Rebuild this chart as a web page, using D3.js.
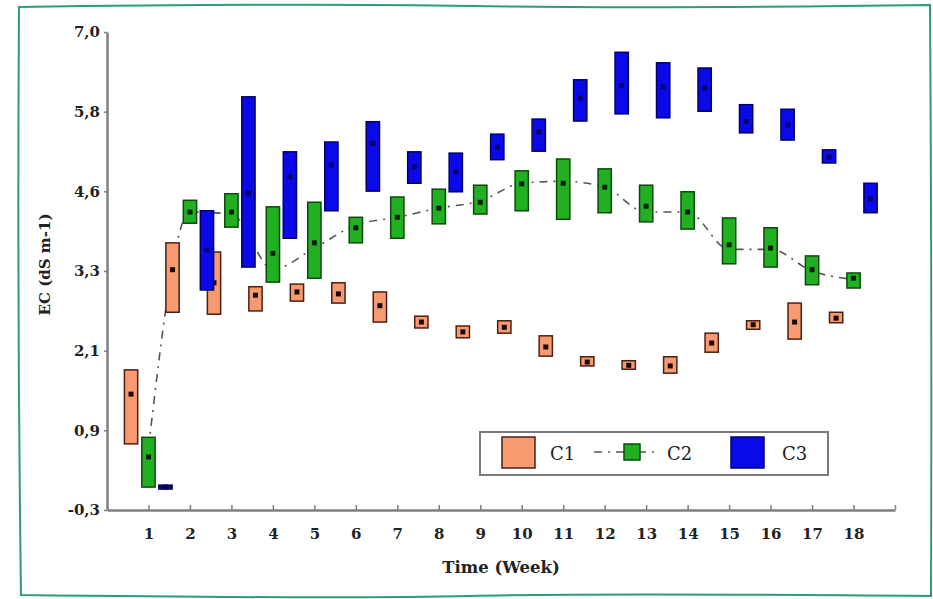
<!DOCTYPE html>
<title>EC over time</title>
<style>
body { margin: 0; background: #fff; }
.axis text { font: bold 15px "DejaVu Serif", serif; fill: #222; }
.axis .domain { stroke: #7f7f7f; stroke-width: 2.5; }
.axis line { stroke: #7f7f7f; stroke-width: 1.5; }
.title { font: bold 15px "DejaVu Serif", serif; fill: #222; }
.leg { font: 18px "DejaVu Serif", serif; fill: #222; }
</style>
<body>
<svg width="933" height="599"></svg>
<script src="https://cdnjs.cloudflare.com/ajax/libs/d3/7.8.5/d3.min.js"></script>
<script>

var weeks = [1,2,3,4,5,6,7,8,9,10,11,12,13,14,15,16,17,18];
var yTicks = [-0.3, 0.9167, 2.1333, 3.35, 4.5667, 5.7833, 7.0];
var yTickLabels = ["-0,3","0,9","2,1","3,3","4,6","5,8","7,0"];

// box tops, bottoms and means per week
var c1Top  = [1.84,3.78,3.64,3.11,3.15,3.17,3.03,2.66,2.51,2.59,2.36,2.04,1.98,2.04,2.40,2.59,2.86,2.72];
var c1Bot  = [0.71,2.72,2.69,2.74,2.89,2.86,2.57,2.48,2.33,2.40,2.05,1.90,1.85,1.79,2.11,2.46,2.31,2.56];
var c1Mean = [1.47,3.37,3.17,2.98,3.03,3.00,2.82,2.57,2.42,2.49,2.19,1.96,1.91,1.90,2.25,2.53,2.57,2.63];

var c2Top  = [0.81,4.43,4.53,4.33,4.40,4.17,4.48,4.60,4.66,4.88,5.06,4.91,4.66,4.56,4.16,4.01,3.58,3.32];
var c2Bot  = [0.05,4.08,4.02,3.18,3.24,3.78,3.85,4.07,4.22,4.27,4.14,4.24,4.10,3.99,3.46,3.41,3.14,3.09];
var c2Mean = [0.51,4.25,4.25,3.62,3.78,4.01,4.17,4.31,4.40,4.68,4.69,4.63,4.34,4.25,3.75,3.70,3.37,3.24];
var c2Median = [0.65,4.25,4.22,3.38,3.70,4.05,4.17,4.31,4.42,4.69,4.72,4.63,4.25,4.25,3.68,3.68,3.35,3.22];

var c3Top  = [0.08,4.27,6.01,5.17,5.32,5.63,5.17,5.15,5.44,5.67,6.27,6.69,6.53,6.45,5.89,5.82,5.20,4.69];
var c3Bot  = [0.02,3.06,3.41,3.85,4.27,4.57,4.69,4.56,5.05,5.18,5.64,5.75,5.69,5.79,5.46,5.35,5.00,4.24];
var c3Mean = [0.05,3.67,4.54,4.79,4.97,5.30,4.94,4.86,5.24,5.47,5.99,6.18,6.16,6.14,5.63,5.58,5.09,4.45];

var svg = d3.select("svg"),
    margin = {top: 32, right: 38, bottom: 89, left: 107},
    width = +svg.attr("width") - margin.left - margin.right,
    height = +svg.attr("height") - margin.top - margin.bottom;

// frame
svg.append("path")
  .attr("d", "M19,7 Q300,3 470,6 T930,5 Q932,300 931,596 Q600,593 470,596 T21,595 Q17,300 19,7 Z")
  .attr("fill", "#fff")
  .attr("stroke", "#2e9c7c")
  .attr("stroke-width", 2);

var g = svg.append("g").attr("transform", "translate(" + margin.left + "," + margin.top + ")");

var x = d3.scaleLinear().domain([0, 19]).range([0, width]);
var y = d3.scaleLinear().domain([-0.3, 7.0]).range([height, 0]);
var bw = x(0.32) - x(0);

g.append("g")
  .attr("class", "axis")
  .attr("transform", "translate(0," + height + ")")
  .call(d3.axisBottom(x)
    .tickValues(weeks.concat([19]))
    .tickFormat(function(d) { return d == 19 ? "" : d; })
    .tickSizeInner(-5).tickSizeOuter(0).tickPadding(18));

g.append("g")
  .attr("class", "axis")
  .call(d3.axisLeft(y)
    .tickValues(yTicks)
    .tickFormat(function(d, i) { return yTickLabels[i]; })
    .tickSizeInner(3).tickSizeOuter(0).tickPadding(4));

g.append("text")
  .attr("class", "title")
  .style("font-size", "16.5px")
  .attr("text-anchor", "middle")
  .attr("x", x(9.5)).attr("y", 541)
  .text("Time (Week)");

g.append("text")
  .attr("class", "title")
  .attr("text-anchor", "middle")
  .attr("transform", "translate(-57," + y(3.45) + ") rotate(-90)")
  .text("EC (dS m-1)");

var series = [
  {name: "C1", top: c1Top, bot: c1Bot, mean: c1Mean, off: -0.42, fill: "#f79a70", stroke: "#4a2014", dot: "#1a0800"},
  {name: "C2", top: c2Top, bot: c2Bot, mean: c2Mean, off: 0, fill: "#22b022", stroke: "#0b4a0b", dot: "#0a200a"},
  {name: "C3", top: c3Top, bot: c3Bot, mean: c3Mean, off: 0.41, fill: "#0a0ae8", stroke: "#00006a", dot: "#000070"}
];

// dash-dot line for C2
var line = d3.line()
  .x(function(d, i) { return x(weeks[i]); })
  .y(function(d) { return y(d); })
  .curve(d3.curveMonotoneX);

g.append("path")
  .datum(c2Median)
  .attr("d", line)
  .attr("fill", "none")
  .attr("stroke", "#555")
  .attr("stroke-width", 1.6)
  .attr("stroke-dasharray", "8,6,2,6");

series.forEach(function(s) {
  var sg = g.append("g");
  sg.selectAll("rect")
    .data(weeks)
    .enter().append("rect")
      .attr("x", function(d) { return x(d + s.off) - bw / 2; })
      .attr("y", function(d, i) { return y(s.top[i]); })
      .attr("width", bw)
      .attr("height", function(d, i) { return Math.max(2, y(s.bot[i]) - y(s.top[i])); })
      .attr("fill", function(d, i) { return i == 0 && s.name == "C3" ? "#111" : s.fill; })
      .attr("stroke", s.stroke)
      .attr("stroke-width", 1.5);
  sg.selectAll("circle")
    .data(weeks)
    .enter().append("rect")
      .attr("x", function(d) { return x(d + s.off) - 2.5; })
      .attr("y", function(d, i) { return y(s.mean[i]) - 2.5; })
      .attr("width", 5).attr("height", 5)
      .attr("fill", s.dot);
});

// legend
var lg = svg.append("g");
lg.append("rect").attr("x", 480).attr("y", 432).attr("width", 348).attr("height", 43)
  .attr("fill", "#fff").attr("stroke", "#7a7a7a").attr("stroke-width", 2);

lg.append("rect").attr("x", 502).attr("y", 437).attr("width", 33).attr("height", 31)
  .attr("fill", series[0].fill).attr("stroke", series[0].stroke).attr("stroke-width", 1.5);
lg.append("text").attr("class", "leg").attr("x", 550).attr("y", 460).text("C1");

lg.append("line").attr("x1", 594).attr("x2", 658).attr("y1", 452).attr("y2", 452)
  .attr("stroke", "#555").attr("stroke-width", 1.6).attr("stroke-dasharray", "8,6,2,6");
lg.append("rect").attr("x", 624).attr("y", 444).attr("width", 16).attr("height", 16)
  .attr("fill", series[1].fill).attr("stroke", series[1].stroke).attr("stroke-width", 1.5);
lg.append("text").attr("class", "leg").attr("x", 667).attr("y", 460).text("C2");

lg.append("rect").attr("x", 731).attr("y", 437).attr("width", 33).attr("height", 31)
  .attr("fill", series[2].fill).attr("stroke", series[2].stroke).attr("stroke-width", 1.5);
lg.append("text").attr("class", "leg").attr("x", 782).attr("y", 460).text("C3");

</script>
</body>
